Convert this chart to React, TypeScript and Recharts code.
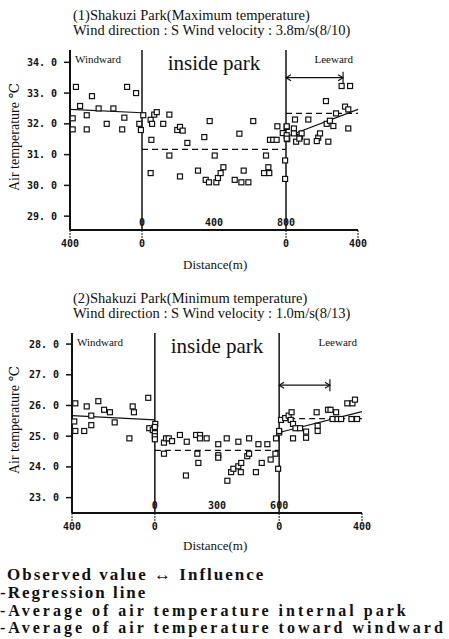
// Shakuzi Park air temperature transects: windward / inside park / leeward.
import { ComposedChart, ReferenceArea, ReferenceLine, Scatter, XAxis, YAxis } from "recharts";

// chart 1 (maximum temperature), x = 0..1600 m along the transect
const maxWindward: [number, number][] = [
  [15, 32.18], [33, 33.2], [15, 31.82], [56, 32.58], [93, 32.28], [93, 31.82], [122, 32.9],
  [159, 32.5], [204, 32.0], [241, 32.5], [290, 31.82], [302, 32.2], [317, 33.2], [367, 33.0],
  [385, 32.0], [394, 31.8], [407, 32.28],
];
const maxInside: [number, number][] = [
  [448, 32.13], [456, 32.0], [468, 32.3], [482, 32.38], [518, 32.0], [552, 32.3], [452, 31.48],
  [448, 30.4], [552, 30.97], [596, 31.8], [611, 31.9], [626, 31.78], [611, 30.29], [652, 31.38],
  [711, 30.48], [746, 31.57], [754, 30.18], [772, 30.1], [776, 32.09], [804, 30.97], [813, 30.1],
  [822, 30.24], [837, 30.4], [852, 30.59], [915, 30.18], [941, 31.68], [952, 30.1], [965, 30.48],
  [991, 30.1], [1018, 32.09], [1078, 30.4], [1089, 30.97], [1102, 30.59], [1107, 30.4],
  [1111, 31.48], [1129, 31.48], [1148, 31.48], [1152, 31.92], [1182, 31.7], [1195, 30.81],
  [1195, 30.21],
];
const maxLeeward: [number, number][] = [
  [1509, 33.23], [1556, 33.23], [1422, 32.74], [1528, 32.56], [1546, 32.47], [1478, 32.34],
  [1250, 32.14], [1324, 32.14], [1204, 31.9], [1244, 31.85], [1426, 32.0], [1444, 32.1],
  [1463, 31.93], [1546, 31.85], [1204, 31.63], [1244, 31.69], [1278, 31.58], [1287, 31.69],
  [1207, 31.5], [1256, 31.42], [1274, 31.52], [1315, 31.42], [1379, 31.55], [1389, 31.69],
  [1371, 31.44], [1435, 31.42], [1204, 31.92], [1204, 31.52],
];
const maxWindReg = [32.47, 32.36];
const maxLeeReg = [31.58, 32.47];
const maxInsideAvg = 31.17;
const maxLeeAvg = 32.34;
const maxInfluence = [1200, 1517, 33.5];

// chart 2 (minimum temperature), x = 0..1400 m
const minWindward: [number, number][] = [
  [16, 26.07], [11, 25.48], [16, 25.17], [59, 25.17], [71, 25.97], [93, 25.67], [93, 25.36],
  [127, 26.14], [155, 25.86], [183, 25.78], [206, 25.45], [277, 24.93], [293, 25.97],
  [299, 25.78], [368, 26.25], [373, 25.26], [390, 25.2],
];
const minInside: [number, number][] = [
  [402, 25.4], [400, 25.3], [400, 25.1], [400, 25.0], [400, 24.9], [444, 24.79], [454, 24.93],
  [467, 24.93], [483, 24.84], [521, 25.04], [554, 24.82], [599, 25.04], [618, 25.04],
  [618, 24.93], [650, 24.93], [706, 24.74], [747, 24.93], [803, 24.82], [855, 24.93],
  [900, 24.74], [943, 24.74], [985, 24.93], [444, 24.43], [605, 24.43], [610, 24.13],
  [706, 24.38], [706, 24.3], [550, 23.72], [750, 23.55], [768, 23.83], [779, 23.94],
  [803, 24.02], [815, 23.83], [817, 24.13], [846, 24.35], [855, 24.43], [888, 23.83],
  [916, 24.13], [959, 24.24], [982, 24.43], [995, 23.94], [1000, 25.12],
];
const minLeeward: [number, number][] = [
  [1000, 25.17], [1009, 25.53], [1029, 25.59], [1046, 25.67], [1060, 25.78], [1056, 25.53],
  [1067, 25.4], [1079, 25.26], [1101, 25.26], [1067, 24.93], [1130, 25.15], [1130, 24.95],
  [1181, 25.78], [1186, 25.34], [1186, 25.17], [1236, 25.86], [1248, 25.86], [1258, 25.56],
  [1275, 25.78], [1282, 25.56], [1299, 25.56], [1329, 26.07], [1354, 26.07], [1366, 26.19],
  [1349, 25.56], [1376, 25.56],
];
const minWindReg = [25.67, 25.53];
const minLeeReg = [25.12, 25.8];
const minInsideAvg = 24.54;
const minLeeAvg = 25.57;
const minInfluence = [1000, 1245, 26.66];

const serif = "'Liberation Serif', 'DejaVu Serif', serif";
const mono = "'DejaVu Sans Mono', monospace";
const ink = "#111";

const Sq = (p: any) => (
  <rect x={p.cx - 2.5} y={p.cy - 2.5} width={5} height={5} fill="#fff" stroke={ink} strokeWidth={1.2} />
);

const Arrow = (p: any) => {
  const { x1, y1, x2, y2 } = p;
  return (
    <g stroke={ink} strokeWidth={1.2} fill="none">
      <line x1={x1} y1={y1} x2={x2} y2={y2} />
      <polyline points={`${x1 + 5},${y1 - 3} ${x1},${y1} ${x1 + 5},${y1 + 3}`} />
      <polyline points={`${x2 - 5},${y2 - 3} ${x2},${y2} ${x2 - 5},${y2 + 3}`} />
      <line x1={x2} y1={y2 - 6} x2={x2} y2={y2 + 6} />
    </g>
  );
};

const toPts = (a: [number, number][]) => a.map(([d, t]) => ({ d, t }));
const fmtY = (v: number) => v.toFixed(1).replace(".", ". ");

type Panel = {
  span: number;
  park: [number, number];
  yDomain: [number, number];
  yTicks: number[];
  outer: Record<number, string>;
  inner: Record<number, string>;
  left: number;
  right: number;
  series: [number, number][][];
  windReg: number[];
  leeReg: number[];
  insideAvg: number;
  leeAvg: number;
  influence: number[];
};

function TransectChart(p: Panel) {
  const [a, b] = p.park;
  const tickStyle = { fill: ink, fontSize: 10, fontFamily: mono, fontWeight: 700 };
  const areaLabel = (value: string, position: any, size: number) => ({
    value,
    position,
    fill: ink,
    fontSize: size,
    fontFamily: serif,
  });
  return (
    <ComposedChart width={449} height={262} margin={{ top: 50, right: p.right, bottom: 6, left: 0 }}>
      <XAxis
        type="number"
        dataKey="d"
        domain={[0, p.span]}
        ticks={Object.keys(p.outer).map(Number)}
        tickFormatter={(v: number) => p.outer[v]}
        height={26}
        tickSize={8}
        tickMargin={2}
        tick={tickStyle}
        axisLine={{ stroke: ink, strokeWidth: 2 }}
        tickLine={{ stroke: ink, strokeDasharray: "2 1" }}
      />
      <XAxis xAxisId="top" orientation="top" type="number" domain={[0, p.span]} height={0} tick={false}
        axisLine={{ stroke: "#666", strokeDasharray: "1 1.5" }} />
      <YAxis
        type="number"
        dataKey="t"
        domain={p.yDomain}
        ticks={p.yTicks}
        tickFormatter={fmtY}
        width={p.left}
        tickSize={6}
        tickMargin={7}
        tick={tickStyle}
        axisLine={{ stroke: ink, strokeWidth: 2 }}
        tickLine={{ stroke: ink, strokeWidth: 1.5 }}
      />
      <YAxis yAxisId="r" orientation="right" type="number" domain={p.yDomain} width={0} tick={false}
        axisLine={{ stroke: ink, strokeWidth: 1.5 }} />
      <ReferenceArea x1={0} x2={a} fill="none" fillOpacity={0} label={areaLabel("Windward", "insideTopLeft", 11)} />
      <ReferenceArea x1={a} x2={b} fill="none" fillOpacity={0}
        label={{ ...areaLabel("inside park", "insideTop", 21), offset: 5 }} />
      <ReferenceArea x1={b} x2={p.span} fill="none" fillOpacity={0} label={areaLabel("Leeward", "insideTopRight", 11)} />
      <ReferenceLine x={a} stroke={ink} strokeWidth={1.5} />
      <ReferenceLine x={b} stroke={ink} strokeWidth={1.5} />
      {Object.keys(p.inner).map(k => (
        <ReferenceLine
          key={k}
          x={Number(k)}
          strokeOpacity={0}
          label={{ value: p.inner[Number(k)], position: "insideBottom", offset: 4, ...tickStyle }}
        />
      ))}
      <ReferenceLine segment={[{ x: 0, y: p.windReg[0] }, { x: a, y: p.windReg[1] }]} stroke={ink} strokeWidth={1.2} />
      <ReferenceLine segment={[{ x: b, y: p.leeReg[0] }, { x: p.span, y: p.leeReg[1] }]} stroke={ink} strokeWidth={1.2} />
      <ReferenceLine segment={[{ x: a, y: p.insideAvg }, { x: b, y: p.insideAvg }]} stroke={ink} strokeWidth={1.2}
        strokeDasharray="6 4" />
      <ReferenceLine segment={[{ x: b, y: p.leeAvg }, { x: p.span, y: p.leeAvg }]} stroke={ink} strokeWidth={1.2}
        strokeDasharray="6 4" />
      <ReferenceLine
        segment={[{ x: p.influence[0], y: p.influence[2] }, { x: p.influence[1], y: p.influence[2] }]}
        shape={Arrow}
      />
      {p.series.map((s, i) => (
        <Scatter key={i} data={toPts(s)} dataKey="t" shape={Sq} isAnimationActive={false} />
      ))}
    </ComposedChart>
  );
}

const abs = (left: number, top: number, extra: any = {}) => ({
  position: "absolute" as const,
  left,
  top,
  whiteSpace: "nowrap" as const,
  fontFamily: serif,
  color: ink,
  lineHeight: "16px",
  ...extra,
});

export default function App() {
  return (
    <div style={{ position: "absolute", left: 0, top: 0, width: 449, height: 639, background: "#fff" }}>
      <div style={abs(73, 7, { fontSize: 14.5 })}>(1)Shakuzi Park(Maximum temperature)</div>
      <div style={abs(73, 22, { fontSize: 14.5 })}>Wind direction : S Wind velocity : 3.8m/s(8/10)</div>
      <div style={{ position: "absolute", left: 0, top: 0 }}>
        <TransectChart
          span={1600}
          park={[400, 1200]}
          yDomain={[28.55, 34.4]}
          yTicks={[29, 30, 31, 32, 33, 34]}
          outer={{ 0: "400", 400: "0", 1200: "0", 1600: "400" }}
          inner={{ 400: "0", 800: "400", 1200: "800" }}
          left={70}
          right={91}
          series={[maxWindward, maxInside, maxLeeward]}
          windReg={maxWindReg}
          leeReg={maxLeeReg}
          insideAvg={maxInsideAvg}
          leeAvg={maxLeeAvg}
          influence={maxInfluence}
        />
      </div>
      <div style={abs(-50, 129, { fontSize: 14, width: 130, textAlign: "center", transform: "rotate(-90deg)" })}>
        Air temperature ℃
      </div>
      <div style={abs(183, 257, { fontSize: 13 })}>Distance(m)</div>

      <div style={abs(73, 290, { fontSize: 14.5 })}>(2)Shakuzi Park(Minimum temperature)</div>
      <div style={abs(73, 305, { fontSize: 14.5 })}>Wind direction : S Wind velocity : 1.0m/s(8/13)</div>
      <div style={{ position: "absolute", left: 0, top: 283 }}>
        <TransectChart
          span={1400}
          park={[400, 1000]}
          yDomain={[22.5, 28.36]}
          yTicks={[23, 24, 25, 26, 27, 28]}
          outer={{ 0: "400", 400: "0", 1000: "0", 1400: "400" }}
          inner={{ 400: "0", 700: "300", 1000: "600" }}
          left={72}
          right={87}
          series={[minWindward, minInside, minLeeward]}
          windReg={minWindReg}
          leeReg={minLeeReg}
          insideAvg={minInsideAvg}
          leeAvg={minLeeAvg}
          influence={minInfluence}
        />
      </div>
      <div style={abs(-50, 412, { fontSize: 14, width: 130, textAlign: "center", transform: "rotate(-90deg)" })}>
        Air temperature ℃
      </div>
      <div style={abs(183, 538, { fontSize: 13 })}>Distance(m)</div>

      <div style={abs(7, 566, { fontSize: 17, fontWeight: 700, lineHeight: "18px", letterSpacing: 2 })}>
        Observed value ↔ Influence
      </div>
      <div style={abs(0, 584, { fontSize: 17, fontWeight: 700, lineHeight: "18px", letterSpacing: 2 })}>
        -Regression line
      </div>
      <div style={abs(0, 602, { fontSize: 16, fontWeight: 700, lineHeight: "18px", letterSpacing: 3 })}>
        -Average of air temperature internal park
      </div>
      <div style={abs(0, 619, { fontSize: 16, fontWeight: 700, lineHeight: "18px", letterSpacing: 3 })}>
        -Average of air temperature toward windward
      </div>
    </div>
  );
}
